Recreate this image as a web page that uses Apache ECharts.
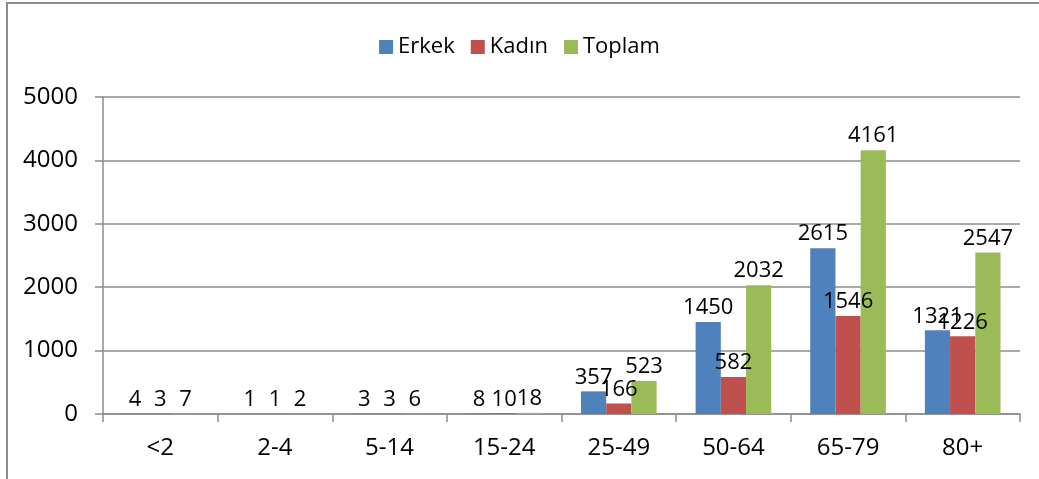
<!DOCTYPE html>
<html>
<head>
<meta charset="utf-8">
<script src="https://cdn.jsdelivr.net/npm/echarts@6/dist/echarts.min.js"></script>
<style>
  html, body { margin: 0; padding: 0; background: #fff; overflow: hidden; }
  #chart { width: 1039px; height: 479px; display: block; }
</style>
</head>
<body>
<div id="chart"></div>
<script>
var categories = ['<2', '2-4', '5-14', '15-24', '25-49', '50-64', '65-79', '80+']
var erkek = [4, 1, 3, 8, 357, 1450, 2615, 1321]
var kadin = [3, 1, 3, 10, 166, 582, 1546, 1226]
var toplam = [7, 2, 6, 18, 523, 2032, 4161, 2547]
var yTicks = { min: 0, max: 5000, interval: 1000 }

var font = 'Open Sans'
var colors = ['#4F81BD', '#C0504D', '#9BBB59']

function makeSeries(name, data, color) {
  return {
    name: name,
    type: 'bar',
    data: data,
    barGap: '0%',
    barCategoryGap: '34%',
    itemStyle: { color: color },
    label: {
      show: true,
      position: 'top',
      distance: 3,
      color: '#000',
      fontFamily: font,
      fontSize: 22
    }
  }
}

var chart = echarts.init(document.getElementById('chart'))
chart.setOption({
  backgroundColor: '#fff',
  animation: false,
  textStyle: { fontFamily: font },
  // outer chart border (only left/top visible in the picture)
  graphic: [{
    type: 'rect',
    shape: { x: 7, y: 3, width: 1100, height: 600 },
    style: { fill: 'none', stroke: '#8c8c8c', lineWidth: 2 },
    silent: true,
    z: 100
  }],
  legend: {
    top: 31,
    left: 'center',
    itemWidth: 14,
    itemHeight: 14,
    itemGap: 16,
    icon: 'rect',
    textStyle: { fontFamily: font, fontSize: 22, color: '#000' },
    data: ['Erkek', 'Kadın', 'Toplam']
  },
  grid: {
    left: 103,
    right: 19,
    top: 97,
    bottom: 65
  },
  xAxis: {
    type: 'category',
    data: categories,
    axisLine: { lineStyle: { color: '#8c8c8c', width: 1.5 } },
    axisTick: { show: true, length: 8, lineStyle: { color: '#8c8c8c', width: 1.5 } },
    axisLabel: { color: '#000', fontFamily: font, fontSize: 24, margin: 22 }
  },
  yAxis: {
    type: 'value',
    min: yTicks.min,
    max: yTicks.max,
    interval: yTicks.interval,
    axisLine: { show: true, lineStyle: { color: '#8c8c8c', width: 1.5 } },
    axisTick: { show: true, length: 8, lineStyle: { color: '#8c8c8c', width: 1.5 } },
    splitLine: { lineStyle: { color: '#8c8c8c', width: 1.5 } },
    axisLabel: {
      color: '#000', fontFamily: font, fontSize: 24, margin: 25,
      formatter: function (v) { return String(v) }
    }
  },
  series: [
    makeSeries('Erkek', erkek, colors[0]),
    makeSeries('Kadın', kadin, colors[1]),
    makeSeries('Toplam', toplam, colors[2])
  ]
})
</script>
</body>
</html>
